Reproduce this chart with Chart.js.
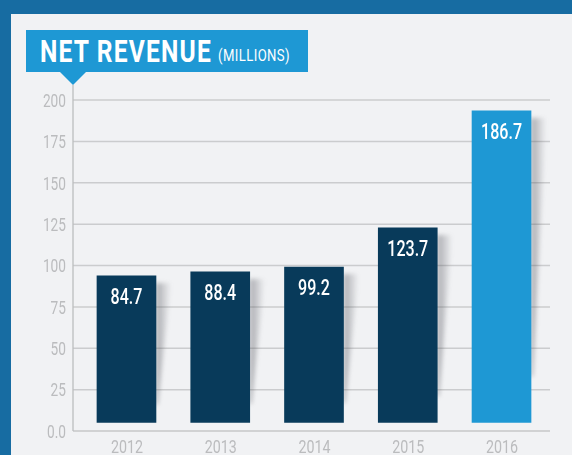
<!DOCTYPE html>
<html>
<head>
<meta charset="utf-8">
<script src="https://cdn.jsdelivr.net/npm/chart.js@4.4.1/dist/chart.umd.min.js"></script>
<style>
  html, body { margin: 0; padding: 0; }
  body { width: 572px; height: 455px; background: #176ca2; position: relative; overflow: hidden; }
  #panel { position: absolute; left: 11px; top: 14px; width: 561px; height: 441px; background: #f1f2f4; }
  #chart { position: absolute; left: 0; top: 0; }
  #titlebox { position: absolute; left: 26px; top: 30px; width: 282px; height: 42px; background: #1e98d4; }
  #pointer { position: absolute; left: 60px; top: 72px; width: 0; height: 0;
    border-left: 13.5px solid transparent; border-right: 13.5px solid transparent; border-top: 13px solid #1e98d4; }
  .ttl { position: absolute; white-space: nowrap; color: #fff; font-family: Roboto, sans-serif; transform-origin: 0 0; }
  #tmain { left: 40px; top: 35.6px; line-height: 31px; font-size: 31px; font-weight: bold; letter-spacing: 1.5px; }
  #tunit { left: 218px; top: 48px; line-height: 16px; font-size: 16px; letter-spacing: 0.5px; }
</style>
</head>
<body>
<div id="panel"></div>
<canvas id="chart" width="572" height="455"></canvas>
<div id="titlebox"></div>
<div id="pointer"></div>
<div id="tmain" class="ttl">NET REVENUE</div>
<div id="tunit" class="ttl">(MILLIONS)</div>
<script>
// ---- data ----
const categories = ['2012', '2013', '2014', '2015', '2016'];
const revenue = [84.7, 88.4, 99.2, 123.7, 186.7];      // printed values (millions)
const barTops = [93.7, 96.1, 99.1, 122.7, 193.4];       // drawn bar tops, in axis units
const barBase = 5.2;                                    // drawn bar bottoms, in axis units
const yTickLabels = ['0.0', '25', '50', '75', '100', '125', '150', '175', '200'];

const FONT = 'Roboto, sans-serif';
const DARK = '#083a5a', LIGHT = '#1e98d4';
const TICK_COLOR = '#bbbcbe';

// narrow the title text to the reference widths
function fitWidth(id, target) {
  const el = document.getElementById(id);
  const w = el.getBoundingClientRect().width;
  el.style.transform = 'scaleX(' + (target / w) + ')';
}
fitWidth('tmain', 172);
fitWidth('tunit', 72);

function narrowText(ctx, text, x, y, align, sx) {
  ctx.save();
  ctx.translate(x, y);
  ctx.scale(sx, 1);
  ctx.textAlign = align;
  ctx.fillText(text, 0, 0);
  ctx.restore();
}

const gridPlugin = {
  id: 'gridAndShadow',
  beforeDatasetsDraw(chart) {
    const ctx = chart.ctx, area = chart.chartArea, ys = chart.scales.y, xs = chart.scales.x;
    const left = area.left - 6.6, right = area.right + 1.6;
    ctx.save();
    // horizontal grid
    ys.ticks.forEach(t => {
      const py = ys.getPixelForValue(t.value);
      ctx.strokeStyle = t.value === 0 ? '#c6c7c9' : '#cbccce';
      ctx.lineWidth = 1.5;
      ctx.beginPath(); ctx.moveTo(left, py); ctx.lineTo(right, py); ctx.stroke();
    });
    // vertical axis line
    ctx.strokeStyle = '#bcbdbf';
    ctx.lineWidth = 1.3;
    ctx.beginPath(); ctx.moveTo(left, area.top - 15); ctx.lineTo(left, ys.getPixelForValue(0)); ctx.stroke();
    // tick labels (narrow)
    ctx.fillStyle = TICK_COLOR;
    ctx.textBaseline = 'alphabetic';
    ctx.font = '19px ' + FONT;
    ys.ticks.forEach((t, i) => {
      const py = ys.getPixelForValue(t.value);
      narrowText(ctx, yTickLabels[i], left - 7, py + 6.8, 'right', 0.72);
    });
    const y0 = ys.getPixelForValue(0);
    categories.forEach((c, i) => {
      narrowText(ctx, c, xs.getPixelForValue(i) + 0.5, y0 + 21.7, 'center', 0.75);
    });
    // bar shadows
    const meta = chart.getDatasetMeta(0);
    meta.data.forEach(bar => {
      const p = bar.getProps(['x', 'y', 'base', 'width'], true);
      const top = Math.min(p.y, p.base), h = Math.abs(p.base - p.y);
      const r = p.x + p.width / 2;
      const sy = top + 7, len = h * 0.83;
      const g = ctx.createLinearGradient(r, 0, r + 15, 0);
      g.addColorStop(0, 'rgba(70,72,80,0.42)');
      g.addColorStop(1, 'rgba(70,72,80,0)');
      ctx.save();
      ctx.filter = 'blur(2px)';
      ctx.fillStyle = g;
      ctx.beginPath();
      ctx.moveTo(r, sy); ctx.lineTo(r + 15, sy); ctx.lineTo(r + 2, sy + len); ctx.lineTo(r, sy + len);
      ctx.closePath(); ctx.fill();
      ctx.restore();
    });
    ctx.restore();
  },
  afterDatasetsDraw(chart) {
    const ctx = chart.ctx;
    const meta = chart.getDatasetMeta(0);
    ctx.save();
    ctx.fillStyle = '#ffffff';
    ctx.font = '500 22px ' + FONT;
    ctx.textBaseline = 'alphabetic';
    meta.data.forEach((bar, i) => {
      const p = bar.getProps(['x', 'y', 'base'], true);
      const top = Math.min(p.y, p.base);
      narrowText(ctx, revenue[i].toFixed(1), p.x, top + 28.5, 'center', 0.73);
    });
    ctx.restore();
  }
};

new Chart(document.getElementById('chart'), {
  type: 'bar',
  data: {
    labels: categories,
    datasets: [{
      data: barTops.map(t => [barBase, t]),
      backgroundColor: categories.map((c, i) => i === categories.length - 1 ? LIGHT : DARK),
      borderWidth: 0,
      barThickness: 59
    }]
  },
  options: {
    responsive: false,
    devicePixelRatio: 1,
    animation: false,
    layout: { padding: { left: 0, right: 23.6, top: 100, bottom: 0 } },
    plugins: { legend: { display: false }, tooltip: { enabled: false } },
    scales: {
      x: {
        grid: { display: false, drawTicks: false },
        border: { display: false },
        ticks: { display: false },
        afterFit(s) { s.height = 24; }
      },
      y: {
        min: 0, max: 200,
        grid: { display: false, drawTicks: false },
        border: { display: false },
        ticks: { display: false, stepSize: 25 },
        afterFit(s) { s.width = 79.6; }
      }
    }
  },
  plugins: [gridPlugin]
});
</script>
</body>
</html>
